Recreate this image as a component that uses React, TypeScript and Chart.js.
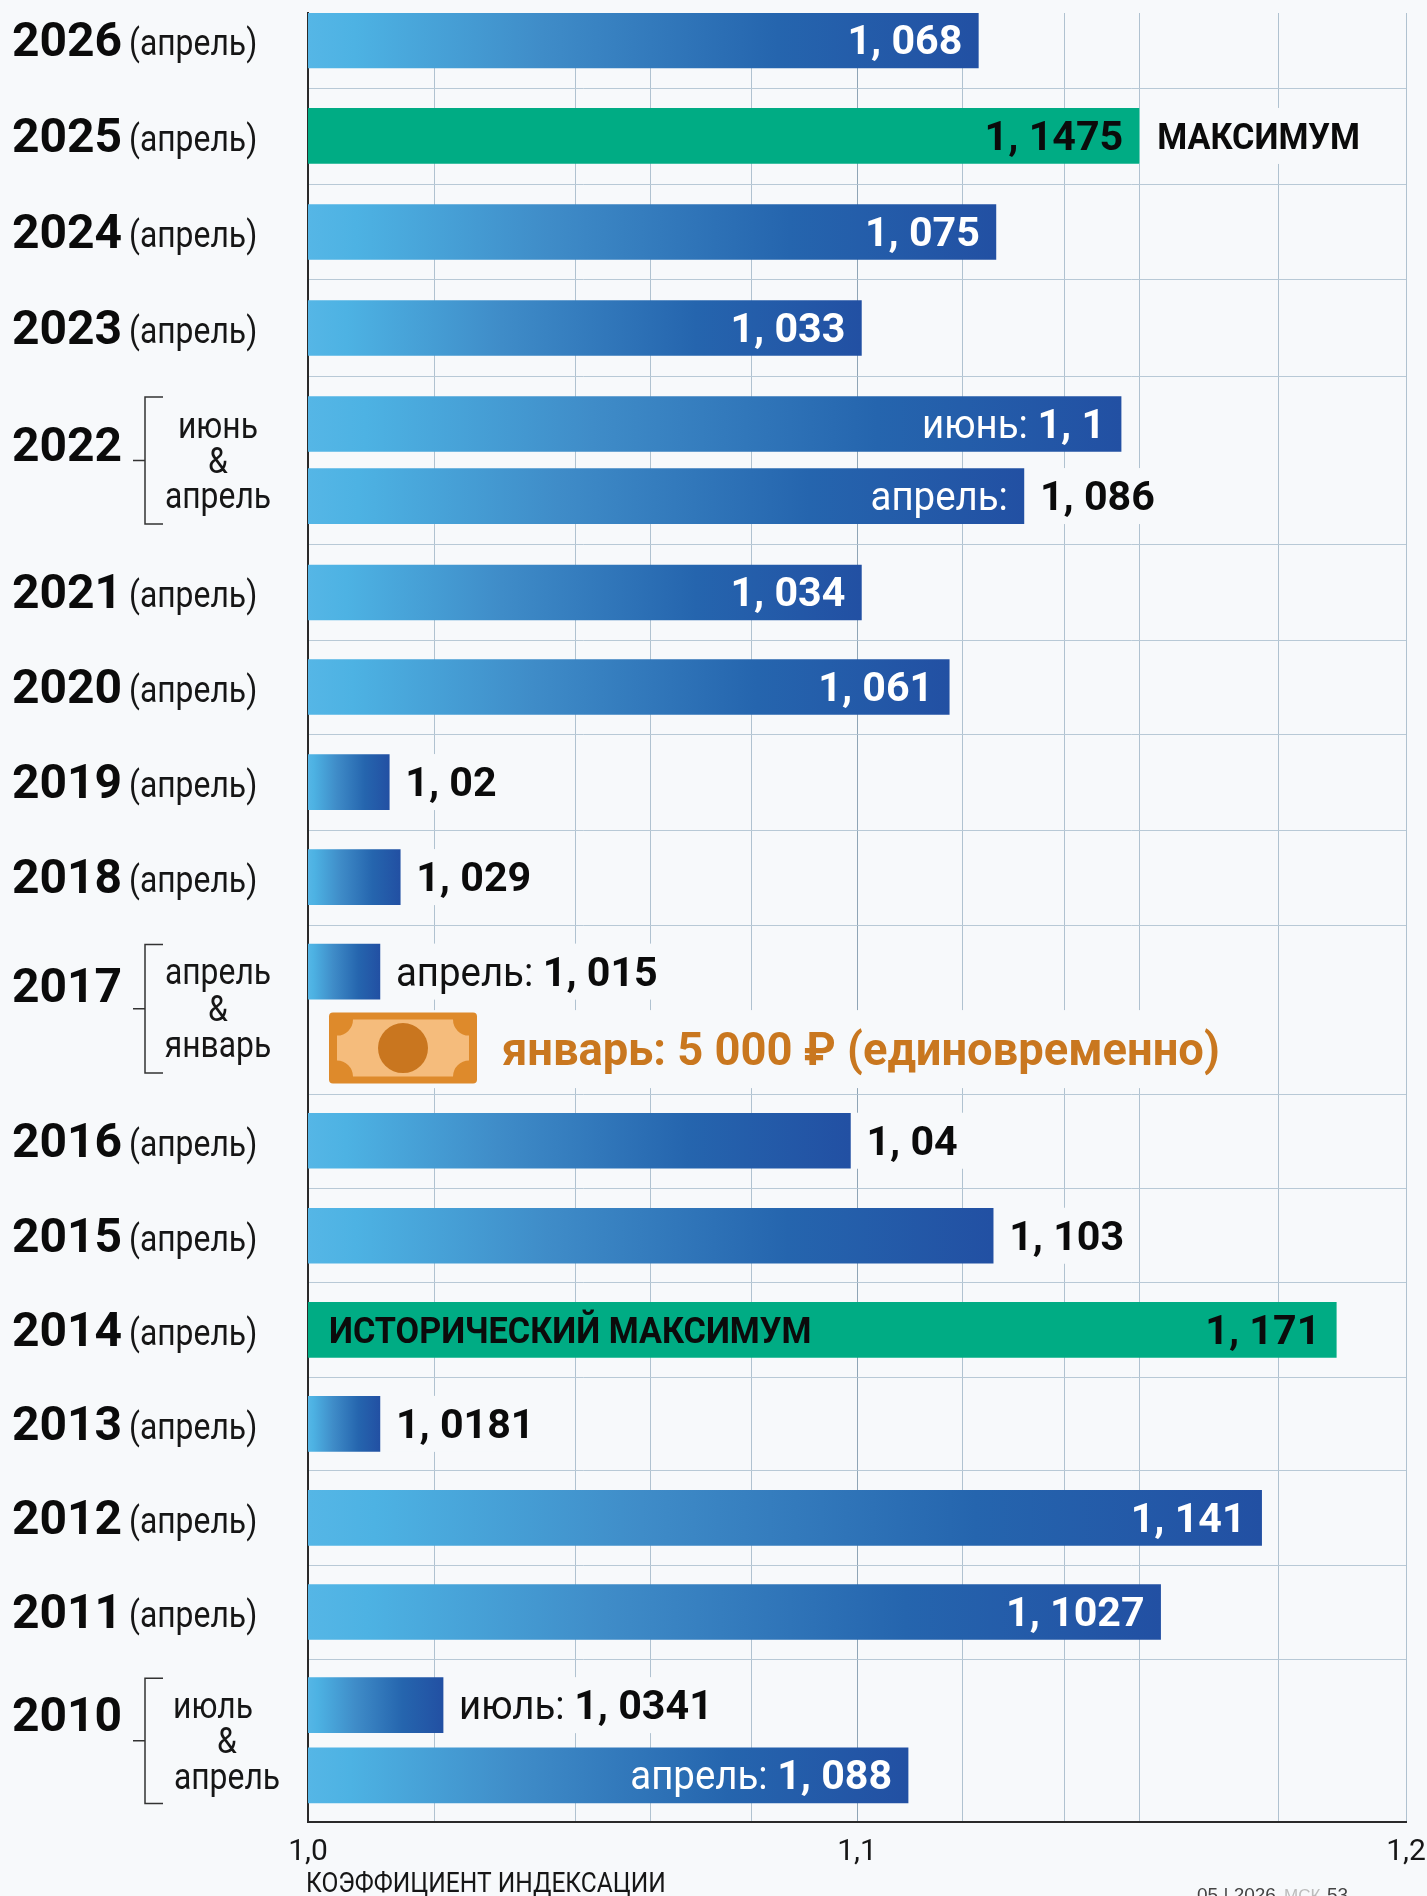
import React, { useEffect, useRef } from "react";
import { Chart, registerables } from "chart.js";

Chart.register(...registerables);

// --- data ---
const rowYears = ["2026","2025","2024","2023","2022","2022","2021","2020","2019","2018","2017","2016","2015","2014","2013","2012","2011","2010","2010"];
const rowMonths = ["апрель","апрель","апрель","апрель","июнь","апрель","апрель","апрель","апрель","апрель","апрель","апрель","апрель","апрель","апрель","апрель","апрель","июль","апрель"];
const barLengths = [1.1221,1.1514,1.1253,1.1008,1.1481,1.1304,1.1008,1.1168,1.0148,1.0168,1.0131,1.0988,1.1248,1.1873,1.0131,1.1737,1.1553,1.0246,1.1093];
const printedValues = ["1, 068","1, 1475","1, 075","1, 033","1, 1","1, 086","1, 034","1, 061","1, 02","1, 029","1, 015","1, 04","1, 103","1, 171","1, 0181","1, 141","1, 1027","1, 0341","1, 088"];
const labelPrefixes = ["","","","","июнь: ","апрель:","","","","","апрель: ","","","","","","","июль: ","апрель: "];
const valueInside = [true,true,true,true,true,false,true,true,false,false,false,false,false,true,false,true,true,false,true];
const highlightRows = [1, 13];
const xTickValues = [1.0,1.0231,1.0487,1.0623,1.0807,1.1,1.1192,1.1378,1.1514,1.1768,1.2];
const xTickLabels: Record<string,string> = { "1": "1,0", "1.1": "1,1", "1.2": "1,2" };
const axisTitle = "КОЭФФИЦИЕНТ ИНДЕКСАЦИИ";
const januaryNote = "январь: 5 000 ₽ (единовременно)";

// --- layout along the row axis, in row units ---
const rowSlots = [0,1.005,2.016,3.026,4.037,4.795,5.81,6.805,7.805,8.805,9.8,11.58,12.58,13.57,14.56,15.55,16.54,17.52,18.26];
const rowSeparators = [0.506,1.517,2.521,3.532,5.3,6.31,7.3,8.31,9.31,11.09,12.08,13.07,14.07,15.05,16.05,17.04];
const januarySlot = 10.605;
const groups = [
  { year: "2022", from: 4, to: 5, labels: ["июнь", "&", "апрель"], lx: [218, 218, 218], yearSlot: 4.26, offs: [-0.21, 0.16, 0.52] },
  { year: "2017", from: 10, to: 10, labels: ["апрель", "&", "январь"], lx: [218, 218, 218], yearSlot: 9.95, offs: [-0.155, 0.235, 0.615] },
  { year: "2010", from: 17, to: 18, labels: ["июль", "&", "апрель"], lx: [213, 227, 227], yearSlot: 17.62, offs: [-0.1, 0.27, 0.65] },
];

const BG = "#f7f9fb";
const GREEN = "#00ac84";
const FONT = "Roboto";
const TEXT_DY = 4;

type Run = { text: string; font: string; color: string; sx: number };
const BOLD_V = `700 40px ${FONT}`;
const REG_V = `400 40px ${FONT}`;
const SX_V = 1.03;
const SX_R = 0.96;

function runsWidth(c: CanvasRenderingContext2D, runs: Run[]) {
  let w = 0;
  for (const r of runs) { c.font = r.font; w += c.measureText(r.text).width * r.sx; }
  return w;
}
function drawRuns(c: CanvasRenderingContext2D, runs: Run[], x: number, y: number, align: "left" | "right" | "center") {
  const w = runsWidth(c, runs);
  let cx = align === "left" ? x : align === "right" ? x - w : x - w / 2;
  c.textAlign = "left";
  c.textBaseline = "middle";
  for (const r of runs) {
    c.font = r.font;
    c.fillStyle = r.color;
    c.save();
    c.translate(cx, y + TEXT_DY);
    c.scale(r.sx, 1);
    c.fillText(r.text, 0, 0);
    c.restore();
    cx += c.measureText(r.text).width * r.sx;
  }
}

function rowRuns(i: number): { runs: Run[]; inner?: Run[] } {
  const inside = valueInside[i];
  const green = highlightRows.includes(i);
  const valueColor = inside && !green ? "#ffffff" : "#0b0b0b";
  const prefix = labelPrefixes[i];
  const value: Run = { text: printedValues[i], font: BOLD_V, color: valueColor, sx: SX_V };
  if (!prefix) return { runs: [value] };
  if (!inside && prefix === "апрель:" ) {
    return { runs: [value], inner: [{ text: prefix, font: REG_V, color: "#ffffff", sx: SX_R }] };
  }
  return { runs: [{ text: prefix, font: REG_V, color: inside ? "#ffffff" : "#111111", sx: SX_R }, value] };
}

const GAP = 16;

const decorPlugin = {
  id: "decor",
  beforeDraw(chart: any) {
    const c = chart.ctx;
    c.save();
    c.fillStyle = BG;
    c.fillRect(0, 0, chart.width, chart.height);
    c.restore();
  },
  beforeDatasetsDraw(chart: any) {
    const c = chart.ctx;
    const { x: xs, y: ys } = chart.scales;
    c.save();
    rowSlots.forEach((slot, i) => {
      if (valueInside[i] && i !== 1) return;
      const { runs } = rowRuns(i);
      const w = i === 1 ? 225 : runsWidth(c, runs);
      const xEnd = xs.getPixelForValue(barLengths[i]);
      const py = ys.getPixelForValue(slot);
      c.fillStyle = BG;
      c.fillRect(xEnd, py - 28, w + GAP + 10, 56);
    });
    const jy = ys.getPixelForValue(januarySlot);
    c.fillStyle = BG;
    c.fillRect(xs.getPixelForValue(1) + 2, jy - 38, 935, 78);
    c.restore();
  },
  afterDatasetsDraw(chart: any) {
    const c = chart.ctx;
    const { x: xs, y: ys } = chart.scales;
    c.save();

    // value labels
    rowSlots.forEach((slot, i) => {
      const { runs, inner } = rowRuns(i);
      const xEnd = xs.getPixelForValue(barLengths[i]);
      const py = ys.getPixelForValue(slot);
      if (valueInside[i]) drawRuns(c, runs, xEnd - GAP, py, "right");
      else drawRuns(c, runs, xEnd + GAP, py, "left");
      if (inner) drawRuns(c, inner, xEnd - GAP, py, "right");
    });
    drawRuns(c, [{ text: "МАКСИМУМ", font: `700 37px ${FONT}`, color: "#0b0b0b", sx: 0.925 }],
      xs.getPixelForValue(barLengths[1]) + 18, ys.getPixelForValue(rowSlots[1]), "left");
    drawRuns(c, [{ text: "ИСТОРИЧЕСКИЙ МАКСИМУМ", font: `700 37px ${FONT}`, color: "#0b0b0b", sx: 0.925 }],
      xs.getPixelForValue(1) + 21, ys.getPixelForValue(rowSlots[13]), "left");

    // row labels
    const yearFont = `700 48px ${FONT}`;
    const monthFont = `400 36px ${FONT}`;
    const SX_Y = 1.0;
    const SX_M = 0.885;
    rowSlots.forEach((slot, i) => {
      if (groups.some((g) => i >= g.from && i <= g.to)) return;
      const py = ys.getPixelForValue(slot);
      drawRuns(c, [{ text: rowYears[i], font: yearFont, color: "#0b0b0b", sx: SX_Y }], 12, py, "left");
      drawRuns(c, [{ text: `(${rowMonths[i]})`, font: monthFont, color: "#161616", sx: SX_M }], 129, py + 2, "left");
    });

    // bracketed groups
    groups.forEach((g) => {
      const yearY = ys.getPixelForValue(g.yearSlot);
      drawRuns(c, [{ text: g.year, font: yearFont, color: "#0b0b0b", sx: SX_Y }], 12, yearY, "left");
      const top = ys.getPixelForValue(rowSlots[g.from]) - 27;
      const bottom = g.from === g.to ? ys.getPixelForValue(januarySlot) + 25 : ys.getPixelForValue(rowSlots[g.to]) + 28;
      const mid = (top + bottom) / 2;
      c.strokeStyle = "#333333";
      c.lineWidth = 1.5;
      c.beginPath();
      c.moveTo(163, top); c.lineTo(145, top); c.lineTo(145, bottom); c.lineTo(163, bottom);
      c.moveTo(133, mid); c.lineTo(145, mid);
      c.stroke();
      g.labels.forEach((t, k) => {
        const ly = ys.getPixelForValue(g.yearSlot + g.offs[k]);
        drawRuns(c, [{ text: t, font: monthFont, color: "#161616", sx: SX_M }], g.lx[k], ly, "center");
      });
    });

    // banknote and January note
    const jy = ys.getPixelForValue(januarySlot);
    const bx = 329, bw = 148, bh = 71, by = jy - bh / 2;
    c.fillStyle = "#de8a2b";
    c.beginPath();
    c.roundRect(bx, by, bw, bh, 4);
    c.fill();
    const ix = bx + 8, iy = by + 7, iw = bw - 16, ih = bh - 14, r = 16;
    c.fillStyle = "#f5bc7c";
    c.beginPath();
    c.moveTo(ix + r, iy);
    c.lineTo(ix + iw - r, iy);
    c.arc(ix + iw, iy, r, Math.PI, Math.PI / 2, true);
    c.lineTo(ix + iw, iy + ih - r);
    c.arc(ix + iw, iy + ih, r, -Math.PI / 2, Math.PI, true);
    c.lineTo(ix + r, iy + ih);
    c.arc(ix, iy + ih, r, 0, -Math.PI / 2, true);
    c.lineTo(ix, iy + r);
    c.arc(ix, iy, r, Math.PI / 2, 0, true);
    c.closePath();
    c.fill();
    c.fillStyle = "#c9761f";
    c.beginPath();
    c.ellipse(bx + bw / 2, jy, 25, 25, 0, 0, Math.PI * 2);
    c.fill();
    drawRuns(c, [{ text: januaryNote, font: `700 46px ${FONT}`, color: "#c9771f", sx: 0.985 }], 502, jy + 1, "left");

    // axis name under the ticks
    drawRuns(c, [{ text: axisTitle, font: `400 28px ${FONT}`, color: "#161616", sx: 0.877 }], 306, 1881, "left");

    // page footer, cut by the lower edge as in the source
    c.textBaseline = "alphabetic";
    c.textAlign = "left";
    c.font = "400 19px 'Liberation Sans'";
    c.fillStyle = "#444444";
    c.fillText("05 | 2026", 1197, 1901);
    c.font = "400 17px 'Liberation Sans'";
    c.fillStyle = "#bcbcbc";
    c.fillText("МСК", 1284, 1901);
    c.font = "400 19px 'Liberation Sans'";
    c.fillStyle = "#444444";
    c.fillText("53", 1327, 1901);
    c.restore();
  },
};

export default function App() {
  const ref = useRef<HTMLCanvasElement>(null);
  useEffect(() => {
    if (!ref.current) return;
    const chart = new Chart(ref.current, {
      type: "bar",
      data: {
        datasets: [
          {
            label: "Коэффициент индексации",
            data: rowSlots.map((slot, i) => ({ x: barLengths[i], y: slot })),
            barThickness: 55,
            borderWidth: 0,
            backgroundColor: (ctx: any) => {
              const i = ctx.dataIndex;
              if (i === undefined) return GREEN;
              if (highlightRows.includes(i)) return GREEN;
              const xs = ctx.chart.scales.x;
              const x0 = xs ? xs.getPixelForValue(1) : NaN;
              const x1 = xs ? xs.getPixelForValue(barLengths[i]) : NaN;
              if (!Number.isFinite(x0) || !Number.isFinite(x1)) return "#2566ae";
              const g = ctx.chart.ctx.createLinearGradient(x0, 0, x1, 0);
              g.addColorStop(0, "#55b6e6");
              g.addColorStop(0.07, "#4db2e3");
              g.addColorStop(0.35, "#3f8cc8");
              g.addColorStop(0.7, "#2565ae");
              g.addColorStop(1, "#2250a3");
              return g;
            },
          },
        ],
      },
      options: {
        animation: false,
        responsive: false,
        devicePixelRatio: 1,
        indexAxis: "y",
        layout: { padding: { left: 0, top: 13, right: 21, bottom: 0 } },
        plugins: { legend: { display: false }, tooltip: { enabled: false } },
        scales: {
          x: {
            type: "linear",
            min: 1,
            max: 1.2,
            offset: false,
            afterBuildTicks: (a: any) => { a.ticks = xTickValues.map((value) => ({ value })); },
            afterFit: (a: any) => { a.height = 74; a.paddingRight = 0; a.paddingLeft = 0; },
            grid: {
              color: (ctx: any) => (ctx.tick && ctx.tick.value === 1.1 ? "#8fa5b6" : "#b0c2d0"),
              lineWidth: 1,
              drawTicks: false,
              offset: false,
            },
            border: { display: true, color: "#2a2a2a", width: 2 },
            ticks: {
              autoSkip: false,
              maxRotation: 0,
              padding: 12,
              color: "#161616",
              font: { family: "'Liberation Sans Narrow', Roboto", size: 30 },
              callback: (v: any) => xTickLabels[String(v)] ?? "",
            },
          },
          y: {
            type: "linear",
            reverse: true,
            min: -0.289,
            max: 18.75,
            offset: false,
            afterBuildTicks: (a: any) => { a.ticks = rowSeparators.map((value) => ({ value })); },
            afterFit: (a: any) => { a.width = 308; },
            grid: { color: "#b8c9d6", lineWidth: 1, drawTicks: false, offset: false },
            border: { display: true, color: "#2a2a2a", width: 2 },
            ticks: { display: false },
          },
        },
      },
      plugins: [decorPlugin],
    } as any);
    return () => chart.destroy();
  }, []);
  return (
    <div style={{ position: "absolute", left: 0, top: 0, width: 1427, height: 1896, overflow: "hidden" }}>
      <canvas ref={ref} width={1427} height={1896} style={{ display: "block", width: 1427, height: 1896 }} />
    </div>
  );
}
